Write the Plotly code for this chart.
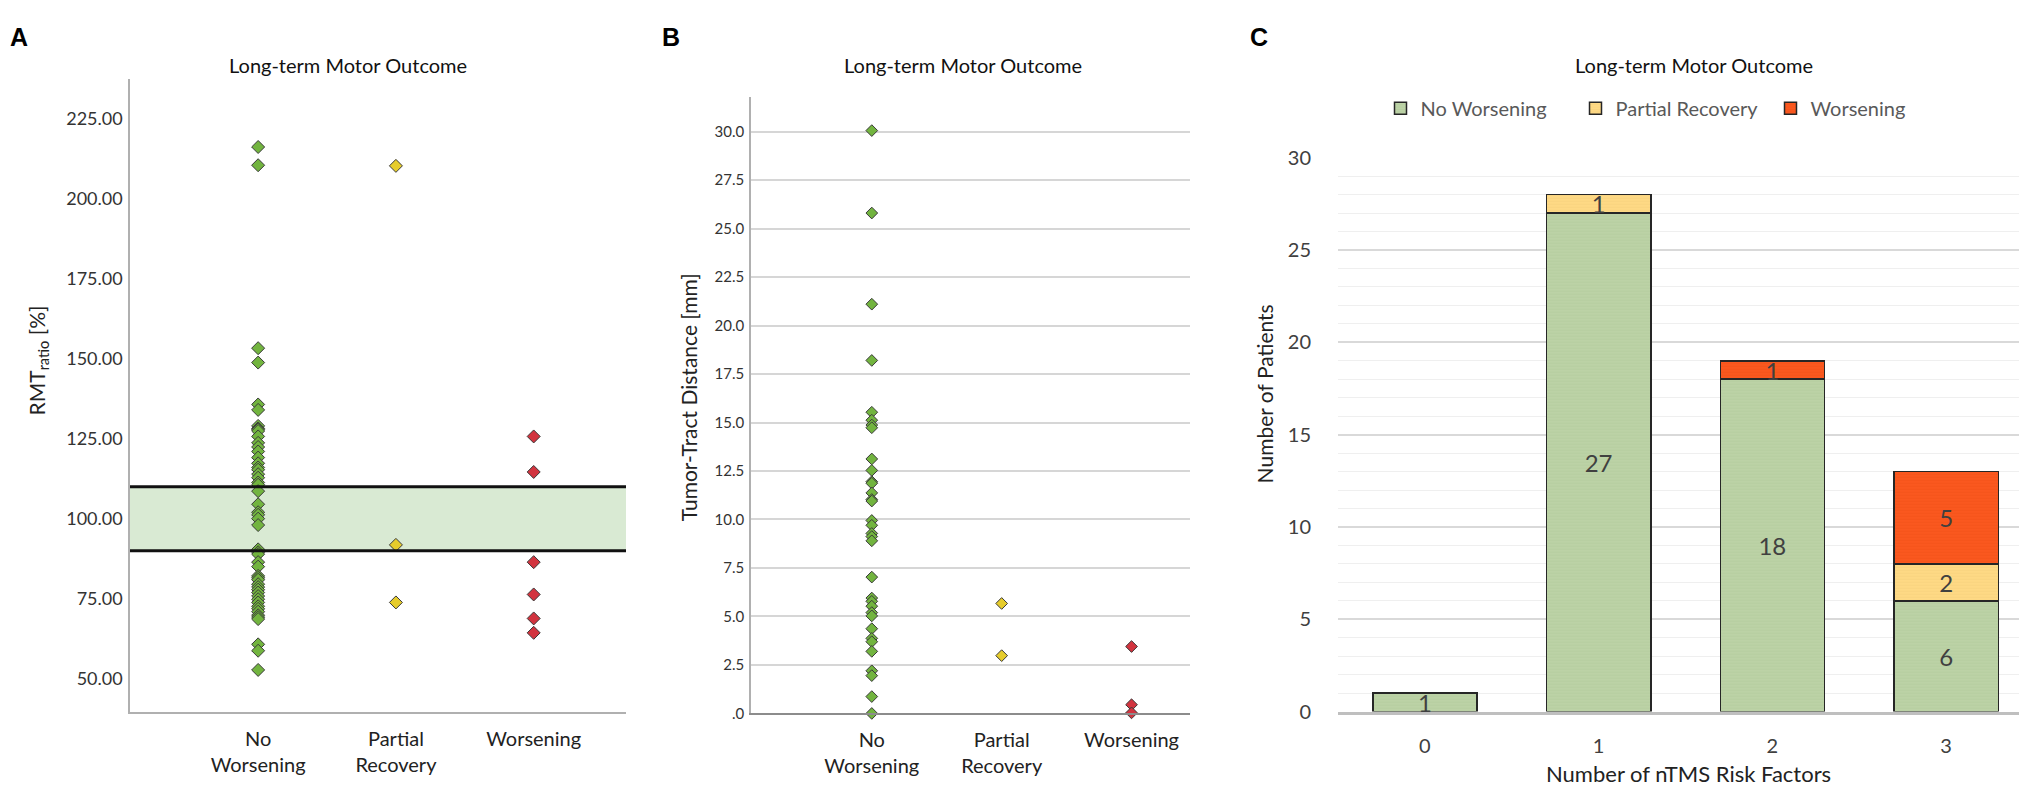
import plotly.graph_objects as go

# -----------------------------
# Data
# -----------------------------
outcomes = ["No Worsening", "Partial Recovery", "Worsening"]
outcome_ticks = ["No<br>Worsening", "Partial<br>Recovery", "Worsening"]

# Panel A: RMT ratio [%]
rmt_no_worsening = [216.2, 210.5, 153.3, 148.8, 135.7, 134.0, 129.0, 128.2, 127.9, 127.4,
                    125.7, 123.7, 122.4, 121.0, 119.1, 117.3, 116.0, 115.3, 113.9, 112.8,
                    111.3, 110.6, 108.6, 104.5, 102.0, 101.2, 100.0, 98.0, 90.4, 89.5,
                    88.9, 86.4, 85.0, 82.1, 81.5, 80.9, 79.5, 78.6, 77.8, 76.9,
                    75.8, 74.8, 73.8, 72.6, 71.8, 70.9, 69.8, 69.2, 68.6, 60.7,
                    58.7, 52.7]
rmt_partial = [210.3, 91.8, 73.8]
rmt_worsening = [125.7, 114.6, 86.4, 76.3, 68.8, 64.3]
rmt_band = [90, 110]
rmt_ticks = [50, 75, 100, 125, 150, 175, 200, 225]

# Panel B: tumor-tract distance [mm]
ttd_no_worsening = [30.05, 25.8, 21.1, 18.2, 15.53, 15.12, 14.87, 14.73, 13.12, 12.53,
                    11.95, 11.87, 11.37, 11.03, 10.95, 9.95, 9.7, 9.28, 9.12, 8.9,
                    7.03, 5.95, 5.78, 5.53, 5.2, 5.03, 4.37, 3.87, 3.7, 3.2,
                    2.2, 1.95, 0.87, 0.0]
ttd_partial = [5.67, 2.98]
ttd_worsening = [3.45, 0.45, 0.03]
ttd_ticks = [0, 2.5, 5, 7.5, 10, 12.5, 15, 17.5, 20, 22.5, 25, 27.5, 30]
ttd_ticktext = [".0", "2.5", "5.0", "7.5", "10.0", "12.5", "15.0", "17.5",
                "20.0", "22.5", "25.0", "27.5", "30.0"]

# Panel C: number of patients by nTMS risk factors
risk_factors = ["0", "1", "2", "3"]
count_no_worsening = [1, 27, 18, 6]
count_partial = [0, 1, 0, 2]
count_worsening = [0, 0, 1, 5]

# -----------------------------
# Styling
# -----------------------------
W, H = 2027, 795
FONT = "Lato"
point_colors = ["#72b43f", "#e6cc2c", "#d2343f"]
bar_colors = ["#bcd2a6", "#fed985", "#fa581f"]
bar_stripes = ["#aec794", "#f3cc76", "#ec4c14"]


def px_x(p):
    return p / W


def px_y(p):
    return 1 - p / H


fig = go.Figure()

# Panel A scatter
for i, vals in enumerate([rmt_no_worsening, rmt_partial, rmt_worsening]):
    fig.add_trace(go.Scatter(
        x=[outcomes[i]] * len(vals), y=vals, mode="markers",
        marker=dict(symbol="diamond", size=10, color=point_colors[i],
                    line=dict(color="#3a3a3a", width=1)),
        xaxis="x", yaxis="y", showlegend=False, cliponaxis=False))

# Panel B scatter
for i, vals in enumerate([ttd_no_worsening, ttd_partial, ttd_worsening]):
    fig.add_trace(go.Scatter(
        x=[outcomes[i]] * len(vals), y=vals, mode="markers",
        marker=dict(symbol="diamond", size=9, color=point_colors[i],
                    line=dict(color="#3a3a3a", width=1)),
        xaxis="x2", yaxis="y2", showlegend=False, cliponaxis=False))

# Panel C stacked bars (empty segments left out)
for i, counts in enumerate([count_no_worsening, count_partial, count_worsening]):
    xs = [rf for rf, c in zip(risk_factors, counts) if c]
    ys = [c for c in counts if c]
    fig.add_trace(go.Bar(
        x=xs, y=ys, name=outcomes[i], text=[str(c) for c in ys],
        textposition="inside", insidetextanchor="middle", constraintext="none",
        textangle=0,
        textfont=dict(family=FONT, size=24, color="#404040"),
        marker=dict(color=bar_colors[i], line=dict(color="#262626", width=1.5),
                    pattern=dict(shape="-", size=3, solidity=0.25,
                                 fgcolor=bar_stripes[i], bgcolor=bar_colors[i])),
        width=0.6, xaxis="x3", yaxis="y3", cliponaxis=False))

# Normal range band in panel A
fig.add_shape(type="rect", xref="x domain", yref="y", x0=0, x1=1,
              y0=rmt_band[0], y1=rmt_band[1], fillcolor="#d9ead3",
              line=dict(width=0), layer="below")
for b in rmt_band:
    fig.add_shape(type="line", xref="x domain", yref="y", x0=0, x1=1,
                  y0=b, y1=b, line=dict(color="#111111", width=3))

cat_font = dict(family=FONT, size=20, color="#222222")

fig.update_layout(
    width=W, height=H, autosize=False,
    margin=dict(l=0, r=0, t=0, b=0),
    paper_bgcolor="white", plot_bgcolor="white",
    font=dict(family=FONT, color="#222222"),
    barmode="stack",
    xaxis=dict(domain=[px_x(122), px_x(618)], anchor="y", type="category",
               categoryorder="array", categoryarray=outcomes,
               range=[-0.93, 2.67], tickvals=outcomes, ticktext=outcome_ticks,
               tickfont=cat_font, showgrid=False, zeroline=False,
               showline=True, linecolor="#b0b0b0", linewidth=1.5,
               ticks="", ticklabelstandoff=8),
    yaxis=dict(domain=[px_y(713), px_y(60)], anchor="x",
               range=[39.4, 237.4], tickvals=rmt_ticks, tickformat=".2f",
               tickfont=dict(family=FONT, size=18, color="#333333"),
               showgrid=False, zeroline=False, ticklabelstandoff=2,
               showline=True, linecolor="#b0b0b0", linewidth=1.5, ticks=""),
    xaxis2=dict(domain=[px_x(743), px_x(1182)], anchor="y2", type="category",
                categoryorder="array", categoryarray=outcomes,
                range=[-0.93, 2.45], tickvals=outcomes, ticktext=outcome_ticks,
                tickfont=cat_font, showgrid=False, zeroline=False,
                showline=True, linecolor="#8c8c8c", linewidth=1.5,
                ticks="", ticklabelstandoff=8),
    yaxis2=dict(domain=[px_y(714), px_y(78)], anchor="x2",
                range=[0, 31.8], tickvals=ttd_ticks, ticktext=ttd_ticktext,
                tickfont=dict(family=FONT, size=15, color="#333333"),
                showgrid=True, gridcolor="#d6d6d6", ticklabelstandoff=2,
                gridwidth=1.5, zeroline=False,
                showline=True, linecolor="#b0b0b0", linewidth=1.5, ticks=""),
    xaxis3=dict(domain=[px_x(1330), px_x(2025)], anchor="y3", type="category",
                categoryorder="array", categoryarray=risk_factors,
                range=[-0.5, 3.5], tickfont=dict(family=FONT, size=20, color="#404040"),
                showgrid=False, zeroline=False, showline=True,
                linecolor="#bfbfbf", linewidth=3, ticks="", ticklabelstandoff=14),
    yaxis3=dict(domain=[px_y(712), px_y(141)], anchor="x3",
                range=[0, 30], dtick=5,
                tickfont=dict(family=FONT, size=20, color="#404040"),
                showgrid=True, gridcolor="#d9d9d9", gridwidth=1.5,
                minor=dict(dtick=1, showgrid=True, gridcolor="#efefef", gridwidth=1),
                zeroline=False, showline=False, ticks="", ticklabelstandoff=26),
    legend=dict(orientation="h", x=px_x(1665), xanchor="center",
                y=px_y(90), yanchor="middle", traceorder="normal",
                entrywidth=150, itemwidth=30,
                font=dict(family=FONT, size=20, color="#595959"),
                bgcolor="rgba(0,0,0,0)"),
)

# Titles, panel letters, axis titles
title_font = dict(family=FONT, size=20, color="#111111")
for cx in [340, 955, 1686]:
    fig.add_annotation(text="Long-term Motor Outcome", x=px_x(cx), y=px_y(45),
                       xref="paper", yref="paper", showarrow=False,
                       xanchor="center", yanchor="middle", font=title_font)
for letter, lx in [("A", 0), ("B", 652), ("C", 1240)]:
    fig.add_annotation(text="<b>%s</b>" % letter, x=px_x(lx), y=px_y(17),
                       xref="paper", yref="paper", showarrow=False,
                       xanchor="left", yanchor="middle",
                       font=dict(family="Liberation Sans", size=25, color="#000000"))

axis_titles = [
    ("RMT<sub>ratio</sub> [%]", 30, 350),
    ("Tumor-Tract Distance [mm]", 680, 388),
    ("Number of Patients", 1256, 385),
]
for txt, ax, ay in axis_titles:
    fig.add_annotation(text=txt, x=px_x(ax), y=px_y(ay), xref="paper", yref="paper",
                       showarrow=False, textangle=-90, xanchor="center",
                       yanchor="middle", font=dict(family=FONT, size=21, color="#222222"))

fig.add_annotation(text="Number of nTMS Risk Factors", x=px_x(1680), y=px_y(776),
                   xref="paper", yref="paper", showarrow=False,
                   xanchor="center", yanchor="middle",
                   font=dict(family=FONT, size=22, color="#222222"))

fig.write_html("out.html")
